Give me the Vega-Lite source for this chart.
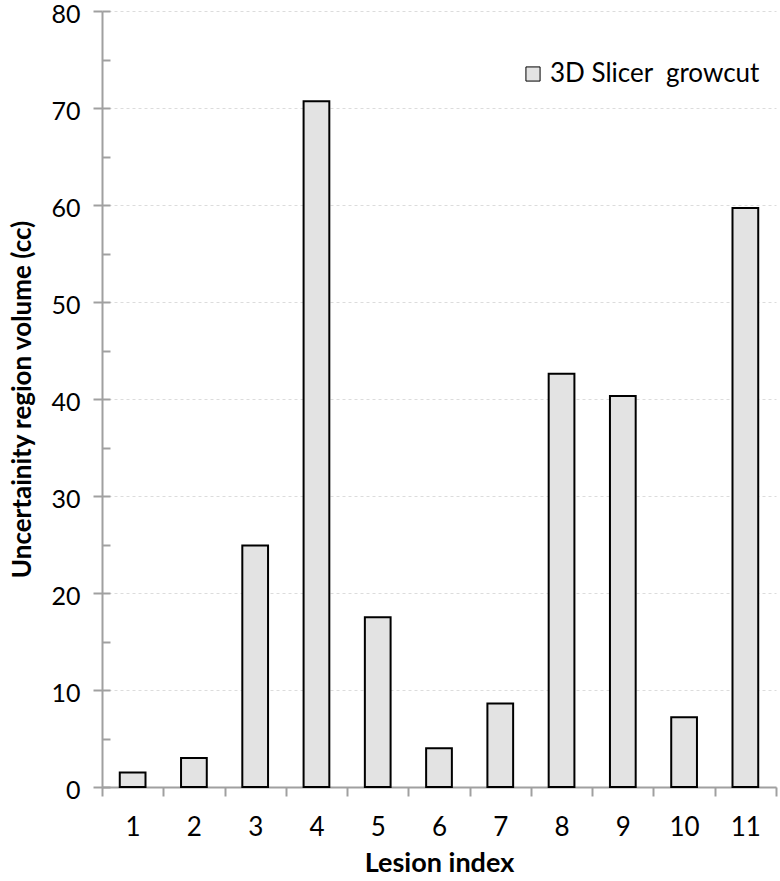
{
  "$schema": "https://vega.github.io/schema/vega-lite/v6.json",
  "width": 674,
  "height": 776,
  "autosize": "none",
  "padding": {"left": 102, "top": 11, "right": 4, "bottom": 94},
  "background": "white",
  "config": {
    "view": {"stroke": null},
    "font": "Lato",
    "axis": {"labelFont": "Lato", "titleFont": "Lato", "labelColor": "black", "titleColor": "black"}
  },
  "data": {
    "values": [
      {"lesion": "1", "volume": 1.5, "series": "3D Slicer\u00a0 growcut"},
      {"lesion": "2", "volume": 3.0, "series": "3D Slicer\u00a0 growcut"},
      {"lesion": "3", "volume": 24.9, "series": "3D Slicer\u00a0 growcut"},
      {"lesion": "4", "volume": 70.7, "series": "3D Slicer\u00a0 growcut"},
      {"lesion": "5", "volume": 17.5, "series": "3D Slicer\u00a0 growcut"},
      {"lesion": "6", "volume": 4.0, "series": "3D Slicer\u00a0 growcut"},
      {"lesion": "7", "volume": 8.6, "series": "3D Slicer\u00a0 growcut"},
      {"lesion": "8", "volume": 42.6, "series": "3D Slicer\u00a0 growcut"},
      {"lesion": "9", "volume": 40.3, "series": "3D Slicer\u00a0 growcut"},
      {"lesion": "10", "volume": 7.2, "series": "3D Slicer\u00a0 growcut"},
      {"lesion": "11", "volume": 59.7, "series": "3D Slicer\u00a0 growcut"}
    ]
  },
  "encoding": {
    "x": {
      "field": "lesion",
      "type": "ordinal",
      "sort": null,
      "scale": {"paddingInner": 0, "paddingOuter": 0},
      "axis": {
        "title": "Lesion index",
        "titleFontSize": 27,
        "titleFontWeight": "bold",
        "titlePadding": 10,
        "labelFontSize": 26,
        "labelAngle": 0,
        "labelPadding": 18,
        "tickBand": "extent",
        "tickSize": 9,
        "tickColor": "#a0a0a0",
        "tickWidth": 2,
        "domainColor": "#a0a0a0",
        "domainWidth": 2,
        "grid": false
      }
    }
  },
  "layer": [
    {
      "mark": {"type": "bar", "width": {"band": 0.42}, "stroke": "black", "strokeWidth": 2},
      "encoding": {
        "y": {
          "field": "volume",
          "type": "quantitative",
          "scale": {"domain": [0, 80], "nice": false},
          "axis": {
            "title": "Uncertainity region volume (cc)",
            "titleFontSize": 26,
            "titleFontWeight": "bold",
            "titlePadding": 15,
            "labelFontSize": 25,
            "labelPadding": 13,
            "labelOffset": 3,
            "values": [0, 10, 20, 30, 40, 50, 60, 70, 80],
            "tickSize": 9,
            "tickColor": "#a0a0a0",
            "tickWidth": 2,
            "domainColor": "#a0a0a0",
            "domainWidth": 2,
            "grid": true,
            "gridColor": "#dcdcdc",
            "gridDash": [3, 3],
            "gridWidth": 1,
            "orient": "left"
          }
        },
        "fill": {
          "field": "series",
          "type": "nominal",
          "scale": {"range": ["#e3e3e3"]},
          "legend": {
            "title": null,
            "orient": "none",
            "legendX": 418,
            "legendY": 50,
            "labelFontSize": 26,
            "labelFont": "Lato",
            "labelColor": "black",
            "labelLimit": 400,
            "symbolType": "square",
            "symbolSize": 200,
            "symbolStrokeColor": "black",
            "symbolStrokeWidth": 1,
            "labelOffset": 4
          }
        }
      }
    },
    {
      "mark": {"type": "tick", "opacity": 0},
      "encoding": {
        "y": {
          "field": "volume",
          "type": "quantitative",
          "axis": {
            "orient": "left",
            "title": null,
            "labels": false,
            "domain": false,
            "grid": false,
            "values": [0, 5, 10, 15, 20, 25, 30, 35, 40, 45, 50, 55, 60, 65, 70, 75, 80],
            "tickSize": -8,
            "tickColor": "#a0a0a0",
            "tickWidth": 2
          }
        }
      }
    }
  ],
  "resolve": {"scale": {"y": "shared"}, "axis": {"y": "independent"}}
}
